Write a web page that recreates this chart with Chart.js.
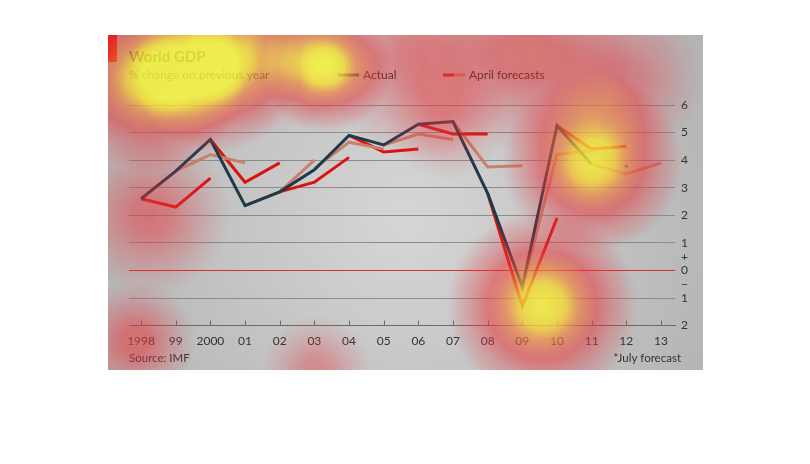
<!DOCTYPE html>
<html>
<head>
<meta charset="utf-8">
<script src="https://cdn.jsdelivr.net/npm/chart.js@4.4.1/dist/chart.umd.min.js"></script>
<style>
html, body { margin: 0; padding: 0; background: #fff; }
#box { position: absolute; left: 108px; top: 35px; width: 595px; height: 335px; }
</style>
</head>
<body>
<div id="box"><canvas id="js--gdp_chart"></canvas></div>
<script>
var years = [1998, 1999, 2000, 2001, 2002, 2003, 2004, 2005, 2006, 2007, 2008, 2009, 2010, 2011, 2012, 2013];
var yearLabels = ['1998', '99', '2000', '01', '02', '03', '04', '05', '06', '07', '08', '09', '10', '11', '12', '13'];
var actual = [2.6, 3.6, 4.75, 2.35, 2.85, 3.65, 4.9, 4.55, 5.3, 5.4, 2.8, -0.6, 5.25, 3.85];
// April forecasts: each covers three years, starting from the year given
var forecastFrom = [1998, 1999, 2000, 2001, 2002, 2003, 2004, 2005, 2006, 2007, 2008, 2009, 2010, 2011];
var aprilForecasts = [
    [2.6, 2.3, 3.35],
    [3.6, 4.2, 3.9],
    [4.75, 3.2, 3.9],
    [2.35, 2.85, 4.0],
    [2.85, 3.2, 4.1],
    [3.7, 4.65, 4.4],
    [4.9, 4.3, 4.4],
    [4.55, 4.95, 4.75],
    [5.3, 4.95, 4.95],
    [5.4, 3.75, 3.8],
    [2.8, -1.3, 1.9],
    [-0.6, 4.2, 4.35],
    [5.25, 4.4, 4.5],
    [3.85, 3.5, 3.9]
];
var julyForecastYear = 2012;
var julyForecastValue = 3.5;

var NAVY = '#1d3a4a';
var RED = '#d8140f';
var SALMON = '#c9806c';

// eye-tracking heat spots, in year / value units
var heatSpots = [
    { year: 1998.26, value: 6.98, r: 95, w: 0.95 },
    { year: 2000.15, value: 7.35, r: 85, w: 0.85 },
    { year: 2003.34, value: 7.35, r: 65, w: 0.9 },
    { year: 2011.03, value: 3.93, r: 90, w: 0.95 },
    { year: 2009.58, value: -1.27, r: 95, w: 0.97 },
    { year: 2001.74, value: 8.18, r: 90, w: 0.4 },
    { year: 2006.09, value: 7.64, r: 100, w: 0.4 },
    { year: 2009.29, value: 7.82, r: 100, w: 0.45 },
    { year: 2011.9, value: 6.91, r: 80, w: 0.35 },
    { year: 1998.26, value: 2.0, r: 80, w: 0.4 },
    { year: 1997.83, value: -2.55, r: 60, w: 0.45 },
    { year: 2003.05, value: -3.64, r: 55, w: 0.3 },
    { year: 2006.82, value: 5.45, r: 60, w: 0.25 }
];

var datasets = [{
    label: 'Actual',
    data: actual.map(function (v, i) { return { x: years[i], y: v }; }),
    borderColor: NAVY,
    borderWidth: 3,
    pointRadius: 0,
    tension: 0,
    order: 0
}];
aprilForecasts.forEach(function (f, k) {
    datasets.push({
        label: 'April forecasts',
        data: f.map(function (v, j) { return { x: forecastFrom[k] + j, y: v }; }),
        borderColor: k % 2 === 0 ? RED : SALMON,
        borderWidth: 3,
        pointRadius: 0,
        tension: 0,
        order: 1
    });
});

function heatColour(t) {
    var stops = [
        [0, 230, 50, 60, 0],
        [0.15, 230, 50, 60, 0.22],
        [0.4, 230, 55, 60, 0.55],
        [0.65, 238, 130, 60, 0.68],
        [0.85, 245, 220, 50, 0.8],
        [1, 245, 245, 60, 0.86]
    ];
    for (var i = 1; i < stops.length; i++) {
        if (t <= stops[i][0]) {
            var a = stops[i - 1], b = stops[i];
            var f = (t - a[0]) / (b[0] - a[0]);
            return [a[1] + (b[1] - a[1]) * f, a[2] + (b[2] - a[2]) * f, a[3] + (b[3] - a[3]) * f, a[4] + (b[4] - a[4]) * f];
        }
    }
    return stops[stops.length - 1].slice(1);
}

var backdrop = {
    id: 'backdrop',
    beforeDraw: function (chart) {
        var ctx = chart.ctx, w = chart.width, h = chart.height;
        var g = ctx.createRadialGradient(w * 0.5, h * 0.55, 20, w * 0.5, h * 0.55, w * 0.6);
        g.addColorStop(0, '#d4d4d4');
        g.addColorStop(1, '#b2b2b2');
        ctx.save();
        ctx.fillStyle = g;
        ctx.fillRect(0, 0, w, h);
        ctx.fillStyle = '#e3120b';
        ctx.fillRect(0, 0, 9, 27);
        ctx.restore();
    }
};

var extras = {
    id: 'extras',
    afterDraw: function (chart) {
        var ctx = chart.ctx, xs = chart.scales.x, ys = chart.scales.y, area = chart.chartArea;
        ctx.save();
        // tick marks on the bottom axis
        ctx.strokeStyle = '#6a6a6a';
        ctx.lineWidth = 1;
        years.forEach(function (y) {
            var px = Math.round(xs.getPixelForValue(y)) + 0.5;
            ctx.beginPath();
            ctx.moveTo(px, area.bottom);
            ctx.lineTo(px, area.bottom - 5);
            ctx.stroke();
        });
        // header
        ctx.fillStyle = '#222';
        ctx.textBaseline = 'alphabetic';
        ctx.font = 'bold 15px Lato';
        ctx.fillText('World GDP', 21, 27);
        ctx.font = '12px Lato';
        ctx.fillText('% change on previous year', 21, 44);
        ctx.lineWidth = 3;
        ctx.strokeStyle = NAVY;
        ctx.beginPath(); ctx.moveTo(230, 40); ctx.lineTo(251, 40); ctx.stroke();
        ctx.fillText('Actual', 255, 44);
        ctx.strokeStyle = RED;
        ctx.beginPath(); ctx.moveTo(335, 40); ctx.lineTo(346, 40); ctx.stroke();
        ctx.strokeStyle = SALMON;
        ctx.beginPath(); ctx.moveTo(346, 40); ctx.lineTo(357, 40); ctx.stroke();
        ctx.fillText('April forecasts', 361, 44);
        // footer
        ctx.font = '11.5px Lato';
        ctx.fillStyle = '#333';
        ctx.fillText('Source: IMF', 21, 327);
        ctx.textAlign = 'right';
        ctx.fillText('*July forecast', 573, 327);
        // asterisk on the July forecast point
        ctx.textAlign = 'center';
        ctx.font = '14px Lato';
        ctx.fillStyle = '#444';
        ctx.fillText('*', xs.getPixelForValue(julyForecastYear), ys.getPixelForValue(julyForecastValue));
        ctx.restore();
    }
};

var heat = {
    id: 'heat',
    afterDraw: function (chart) {
        var xs = chart.scales.x, ys = chart.scales.y;
        var w = chart.width, h = chart.height;
        var off = document.createElement('canvas');
        off.width = w; off.height = h;
        var o = off.getContext('2d');
        o.globalCompositeOperation = 'lighter';
        heatSpots.forEach(function (s) {
            var cx = xs.getPixelForValue(s.year), cy = ys.getPixelForValue(s.value);
            var g = o.createRadialGradient(cx, cy, 0, cx, cy, s.r);
            g.addColorStop(0, 'rgba(0,0,0,' + s.w + ')');
            g.addColorStop(0.25, 'rgba(0,0,0,' + (s.w * 0.85) + ')');
            g.addColorStop(0.5, 'rgba(0,0,0,' + (s.w * 0.5) + ')');
            g.addColorStop(0.75, 'rgba(0,0,0,' + (s.w * 0.22) + ')');
            g.addColorStop(1, 'rgba(0,0,0,0)');
            o.fillStyle = g;
            o.fillRect(cx - s.r, cy - s.r, 2 * s.r, 2 * s.r);
        });
        var img = o.getImageData(0, 0, w, h);
        var d = img.data;
        for (var i = 0; i < d.length; i += 4) {
            var c = heatColour(d[i + 3] / 255);
            d[i] = c[0]; d[i + 1] = c[1]; d[i + 2] = c[2]; d[i + 3] = Math.round(c[3] * 255);
        }
        o.putImageData(img, 0, 0);
        chart.ctx.drawImage(off, 0, 0);
    }
};

var cntxt = document.getElementById('js--gdp_chart');

var myChart = new Chart(cntxt, {
    type: 'line',
    data: { datasets: datasets },
    options: {
        responsive: true,
        maintainAspectRatio: false,
        animation: false,
        layout: { padding: { left: 21, top: 70, right: 9, bottom: 14 } },
        plugins: {
            legend: { display: false },
            tooltip: { enabled: false }
        },
        scales: {
            x: {
                type: 'linear',
                min: 1997.652,
                max: 2013.406,
                afterBuildTicks: function (scale) {
                    scale.ticks = years.map(function (y) { return { value: y }; });
                },
                ticks: {
                    padding: 8,
                    color: '#333',
                    font: { family: 'Lato', size: 12 },
                    maxRotation: 0,
                    autoSkip: false,
                    callback: function (v) { return yearLabels[years.indexOf(v)]; }
                },
                grid: { display: false, drawTicks: false },
                border: { display: true, color: '#6a6a6a', width: 1 }
            },
            y: {
                position: 'right',
                min: -2,
                max: 6,
                afterBuildTicks: function (scale) {
                    scale.ticks = [-2, -1, -0.5, 0, 0.5, 1, 2, 3, 4, 5, 6].map(function (v) { return { value: v }; });
                },
                ticks: {
                    padding: 6,
                    color: '#333',
                    font: { family: 'Lato', size: 12 },
                    callback: function (v) {
                        if (v === 0.5) return '+';
                        if (v === -0.5) return '\u2212';
                        return String(Math.abs(v));
                    }
                },
                grid: {
                    drawTicks: false,
                    lineWidth: 1,
                    color: function (c) {
                        var v = c.tick.value;
                        if (v % 1 !== 0) return 'rgba(0,0,0,0)';
                        if (v === 0) return '#d6312b';
                        if (v === -2) return '#6a6a6a';
                        return '#8c8c8c';
                    }
                },
                border: { display: false }
            }
        }
    },
    plugins: [backdrop, extras, heat]
});
</script>
</body>
</html>
